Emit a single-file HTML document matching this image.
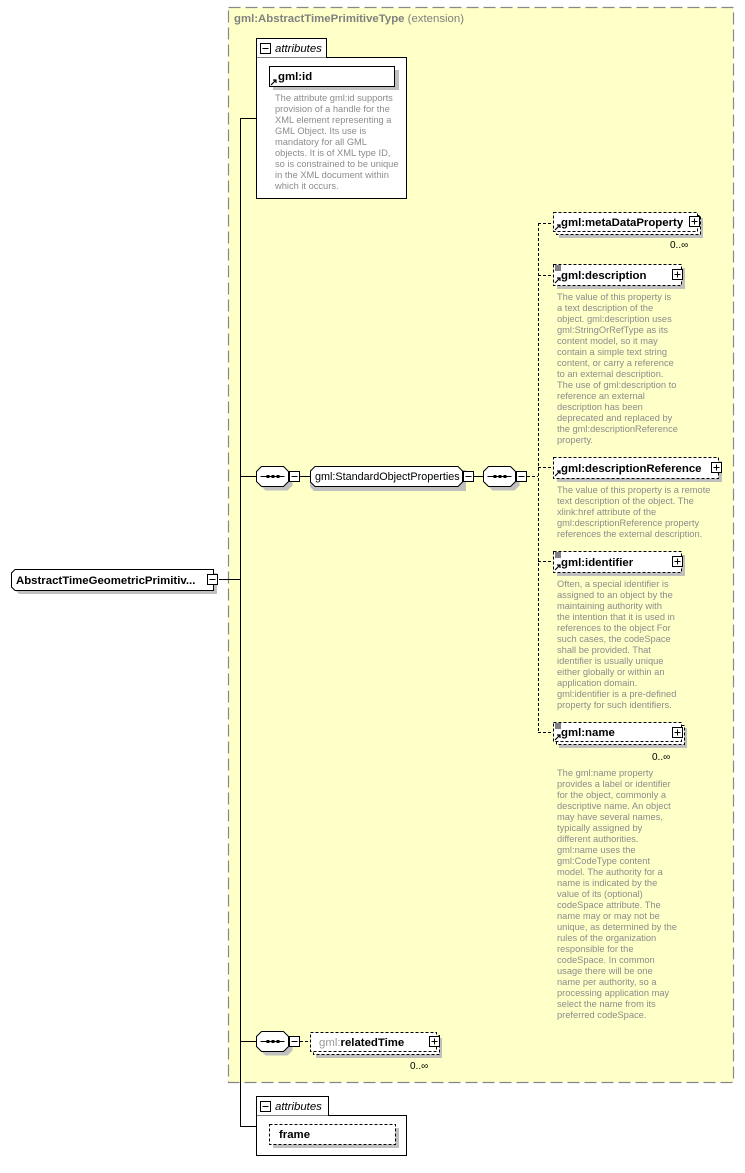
<!DOCTYPE html>
<html><head><meta charset="utf-8"><style>
html,body{margin:0;padding:0;background:#fff;}
svg{display:block;font-family:"Liberation Sans",Arial,sans-serif;}
.d{font-size:9.3px;fill:#8c8c8c;}
.b{font-weight:bold;font-size:11.4px;fill:#000;}
.n{font-size:10.8px;fill:#000;}
</style></head><body>
<svg width="745" height="1173" viewBox="0 0 745 1173" xmlns="http://www.w3.org/2000/svg">
<defs>
<g id="minus"><rect x="0" y="0" width="10" height="10" fill="#fff" stroke="#000"/><line x1="2" y1="5" x2="8" y2="5" stroke="#000"/></g>
<g id="plus"><rect x="0" y="0" width="10" height="10" fill="#fff" stroke="#000"/><line x1="2" y1="5" x2="8" y2="5" stroke="#000"/><line x1="5" y1="2" x2="5" y2="8" stroke="#000"/></g>
<g id="seq">
<polygon points="5,0 27,0 32,5 32,15 27,20 5,20 0,15 0,5" transform="translate(4,4)" fill="#c0c0c0"/>
<polygon points="5,0 27,0 32,5 32,15 27,20 5,20 0,15 0,5" fill="#fff" stroke="#000"/>
<line x1="4" y1="10" x2="28" y2="10" stroke="#000"/>
<rect x="10" y="8.5" width="3" height="3" fill="#000"/><rect x="15" y="8.5" width="3" height="3" fill="#000"/><rect x="20" y="8.5" width="3" height="3" fill="#000"/>
</g>
<g id="arr"><path d="M0,6 L5,1 M2,1 L5,1 L5,4" stroke="#000" fill="none" stroke-width="1.2"/></g>
<g id="lines"><line x1="0" y1="0" x2="6" y2="0" stroke="#000"/><line x1="0" y1="2" x2="6" y2="2" stroke="#000"/><line x1="0" y1="4" x2="6" y2="4" stroke="#000"/></g>
</defs>

<rect x="228.5" y="7.5" width="505" height="1075" fill="#ffffc8" stroke="#888" stroke-width="1.2" stroke-dasharray="12,5"/>
<text x="234" y="22" style="font-size:11.4px;fill:#808080"><tspan font-weight="bold">gml:AbstractTimePrimitiveType</tspan> (extension)</text>

<line x1="219" y1="579.5" x2="240.5" y2="579.5" stroke="#000"/>
<line x1="240.5" y1="118" x2="240.5" y2="1126" stroke="#000"/>
<line x1="240" y1="118.5" x2="256" y2="118.5" stroke="#000"/>
<line x1="240" y1="476.5" x2="256" y2="476.5" stroke="#000"/>
<line x1="240" y1="1041.5" x2="256" y2="1041.5" stroke="#000"/>
<line x1="240" y1="1126.5" x2="256" y2="1126.5" stroke="#000"/>

<polygon points="15,573 217,573 217,594 19,594 15,590" fill="#c0c0c0"/>
<polygon points="15,569.5 213.5,569.5 213.5,590.5 15,590.5 11.5,587 11.5,573" fill="#fff" stroke="#000"/>
<text x="16" y="584" class="b">AbstractTimeGeometricPrimitiv...</text>
<use href="#minus" x="207.5" y="574.5"/>

<rect x="256.5" y="57.5" width="150" height="141" fill="#fff" stroke="#000"/>
<path d="M256.5,57.5 V38.5 H326.5 V57.5" fill="#fff" stroke="#000"/>
<use href="#minus" x="260.5" y="43.5"/>
<text x="275" y="52" style="font-size:11.4px;font-style:italic">attributes</text>
<rect x="273" y="70" width="126" height="20" fill="#c0c0c0"/>
<rect x="269.5" y="66.5" width="125" height="20" fill="#fff" stroke="#000"/>
<use href="#arr" x="271" y="79"/>
<text x="278" y="80" class="b">gml:id</text>
<g class="d">
<text x="275" y="101">The attribute gml:id supports</text>
<text x="275" y="112">provision of a handle for the</text>
<text x="275" y="123">XML element representing a</text>
<text x="275" y="134">GML Object. Its use is</text>
<text x="275" y="145">mandatory for all GML</text>
<text x="275" y="156">objects. It is of XML type ID,</text>
<text x="275" y="167">so is constrained to be unique</text>
<text x="275" y="178">in the XML document within</text>
<text x="275" y="189">which it occurs.</text>
</g>

<use href="#seq" x="256.5" y="466.5"/>
<use href="#minus" x="289.5" y="471.5"/>
<line x1="300" y1="476.5" x2="310" y2="476.5" stroke="#000"/>
<polygon points="314,470 466,470 466,491 314,491 310,487 310,474" fill="#c0c0c0"/>
<polygon points="315,466.5 458,466.5 462.5,471 462.5,482 458,486.5 315,486.5 310.5,482 310.5,471" fill="#fff" stroke="#000"/>
<text x="315" y="480" class="n">gml:StandardObjectProperties</text>
<use href="#minus" x="463.5" y="471.5"/>
<line x1="474" y1="476.5" x2="483" y2="476.5" stroke="#000"/>
<use href="#seq" x="483.5" y="466.5"/>
<use href="#minus" x="516.5" y="471.5"/>
<line x1="527" y1="476.5" x2="538" y2="476.5" stroke="#000" stroke-dasharray="3,2"/>
<line x1="538.5" y1="223" x2="538.5" y2="732" stroke="#000" stroke-dasharray="3,2"/>
<g stroke="#000" stroke-dasharray="3,2">
<line x1="538" y1="223.5" x2="553" y2="223.5"/>
<line x1="538" y1="275.5" x2="553" y2="275.5"/>
<line x1="538" y1="467.5" x2="553" y2="467.5"/>
<line x1="538" y1="561.5" x2="553" y2="561.5"/>
<line x1="538" y1="732.5" x2="553" y2="732.5"/>
</g>

<rect x="559" y="218" width="144" height="20" fill="#c0c0c0"/>
<rect x="556.5" y="215.5" width="144" height="19" fill="#fff" stroke="#000" stroke-dasharray="3,2"/>
<rect x="553.5" y="212.5" width="144" height="19" fill="#fff" stroke="#000" stroke-dasharray="3,2"/>
<use href="#arr" x="555" y="224"/>
<text x="561" y="226" class="b">gml:metaDataProperty</text>
<use href="#plus" x="689.5" y="216.5"/>
<text x="670" y="248" style="font-size:10px">0..∞</text>

<rect x="557" y="268" width="128" height="21" fill="#c0c0c0"/>
<rect x="553.5" y="264.5" width="128" height="21" fill="#fff" stroke="#000" stroke-dasharray="3,2"/>
<use href="#lines" x="555" y="266"/>
<use href="#arr" x="555" y="277"/>
<text x="561" y="279" class="b">gml:description</text>
<use href="#plus" x="672.5" y="269.5"/>
<g class="d">
<text x="557" y="300">The value of this property is</text>
<text x="557" y="311">a text description of the</text>
<text x="557" y="322">object. gml:description uses</text>
<text x="557" y="333">gml:StringOrRefType as its</text>
<text x="557" y="344">content model, so it may</text>
<text x="557" y="355">contain a simple text string</text>
<text x="557" y="366">content, or carry a reference</text>
<text x="557" y="377">to an external description.</text>
<text x="557" y="388">The use of gml:description to</text>
<text x="557" y="399">reference an external</text>
<text x="557" y="410">description has been</text>
<text x="557" y="421">deprecated and replaced by</text>
<text x="557" y="432">the gml:descriptionReference</text>
<text x="557" y="443">property.</text>
</g>

<rect x="557" y="461" width="165" height="21" fill="#c0c0c0"/>
<rect x="553.5" y="457.5" width="165" height="21" fill="#fff" stroke="#000" stroke-dasharray="3,2"/>
<use href="#arr" x="555" y="470"/>
<text x="561" y="472" class="b">gml:descriptionReference</text>
<use href="#plus" x="711.5" y="462.5"/>
<g class="d">
<text x="557" y="493">The value of this property is a remote</text>
<text x="557" y="504">text description of the object. The</text>
<text x="557" y="515">xlink:href attribute of the</text>
<text x="557" y="526">gml:descriptionReference property</text>
<text x="557" y="537">references the external description.</text>
</g>

<rect x="557" y="555" width="128" height="21" fill="#c0c0c0"/>
<rect x="553.5" y="551.5" width="128" height="21" fill="#fff" stroke="#000" stroke-dasharray="3,2"/>
<use href="#lines" x="555" y="553"/>
<use href="#arr" x="555" y="564"/>
<text x="561" y="566" class="b">gml:identifier</text>
<use href="#plus" x="672.5" y="556.5"/>
<g class="d">
<text x="557" y="587">Often, a special identifier is</text>
<text x="557" y="598">assigned to an object by the</text>
<text x="557" y="609">maintaining authority with</text>
<text x="557" y="620">the intention that it is used in</text>
<text x="557" y="631">references to the object For</text>
<text x="557" y="642">such cases, the codeSpace</text>
<text x="557" y="653">shall be provided. That</text>
<text x="557" y="664">identifier is usually unique</text>
<text x="557" y="675">either globally or within an</text>
<text x="557" y="686">application domain.</text>
<text x="557" y="697">gml:identifier is a pre-defined</text>
<text x="557" y="708">property for such identifiers.</text>
</g>

<rect x="559" y="728" width="128" height="20" fill="#c0c0c0"/>
<rect x="556.5" y="725.5" width="128" height="19" fill="#fff" stroke="#000" stroke-dasharray="3,2"/>
<rect x="553.5" y="722.5" width="128" height="19" fill="#fff" stroke="#000" stroke-dasharray="3,2"/>
<use href="#lines" x="555" y="724"/>
<use href="#arr" x="555" y="734"/>
<text x="561" y="736" class="b">gml:name</text>
<use href="#plus" x="672.5" y="727.5"/>
<text x="652" y="760" style="font-size:10px">0..∞</text>
<g class="d">
<text x="557" y="776">The gml:name property</text>
<text x="557" y="787">provides a label or identifier</text>
<text x="557" y="798">for the object, commonly a</text>
<text x="557" y="809">descriptive name. An object</text>
<text x="557" y="820">may have several names,</text>
<text x="557" y="831">typically assigned by</text>
<text x="557" y="842">different authorities.</text>
<text x="557" y="853">gml:name uses the</text>
<text x="557" y="864">gml:CodeType content</text>
<text x="557" y="875">model.  The authority for a</text>
<text x="557" y="886">name is indicated by the</text>
<text x="557" y="897">value of its (optional)</text>
<text x="557" y="908">codeSpace attribute.  The</text>
<text x="557" y="919">name may or may not be</text>
<text x="557" y="930">unique, as determined by the</text>
<text x="557" y="941">rules of the organization</text>
<text x="557" y="952">responsible for the</text>
<text x="557" y="963">codeSpace.  In common</text>
<text x="557" y="974">usage there will be one</text>
<text x="557" y="985">name per authority, so a</text>
<text x="557" y="996">processing application may</text>
<text x="557" y="1007">select the name from its</text>
<text x="557" y="1018">preferred codeSpace.</text>
</g>

<use href="#seq" x="256.5" y="1031.5"/>
<use href="#minus" x="289.5" y="1036.5"/>
<line x1="300" y1="1041.5" x2="310" y2="1041.5" stroke="#000" stroke-dasharray="3,2"/>
<rect x="316" y="1038" width="126" height="20" fill="#c0c0c0"/>
<rect x="313.5" y="1035.5" width="126" height="19" fill="#fff" stroke="#000" stroke-dasharray="3,2"/>
<rect x="310.5" y="1032.5" width="126" height="19" fill="#fff" stroke="#000" stroke-dasharray="3,2"/>
<text x="319" y="1046" style="font-size:11.4px"><tspan fill="#999">gml:</tspan><tspan font-weight="bold">relatedTime</tspan></text>
<use href="#plus" x="429.5" y="1036.5"/>
<text x="410" y="1069" style="font-size:10px">0..∞</text>

<rect x="256.5" y="1115.5" width="150" height="40" fill="#fff" stroke="#000"/>
<path d="M256.5,1115.5 V1096.5 H328.5 V1115.5" fill="#fff" stroke="#000"/>
<use href="#minus" x="260.5" y="1101.5"/>
<text x="275" y="1110" style="font-size:11.4px;font-style:italic">attributes</text>
<rect x="273" y="1128" width="126" height="20" fill="#c0c0c0"/>
<rect x="269.5" y="1124.5" width="126" height="20" fill="#fff" stroke="#000" stroke-dasharray="3,2"/>
<text x="279" y="1138" class="b">frame</text>
</svg>
</body></html>
